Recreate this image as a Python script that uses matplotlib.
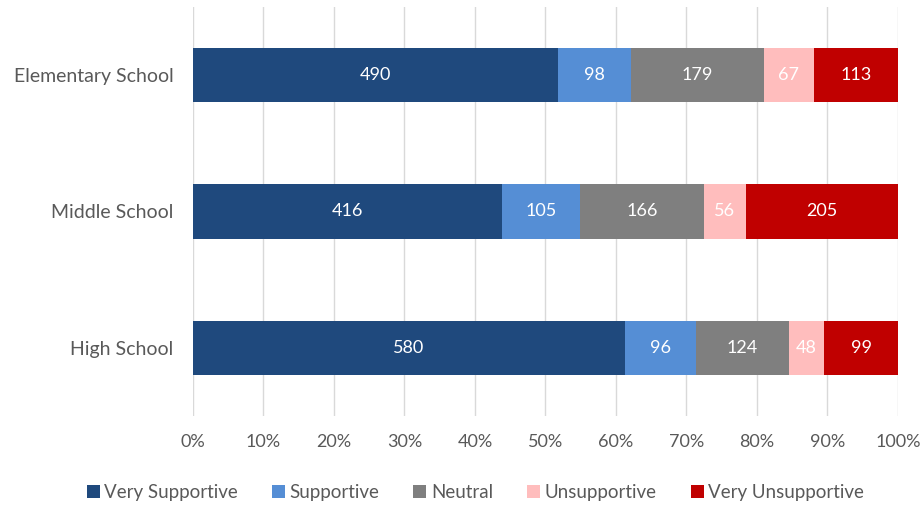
import numpy as np
import matplotlib.pyplot as plt
from matplotlib.ticker import PercentFormatter

plt.rcParams['font.family'] = ['Lato', 'DejaVu Sans']

# Data
schools = ["High School", "Middle School", "Elementary School"]
very_supportive = [580, 416, 490]
supportive = [96, 105, 98]
neutral = [124, 166, 179]
unsupportive = [48, 56, 67]
very_unsupportive = [99, 205, 113]

series_names = ["Very Supportive", "Supportive", "Neutral", "Unsupportive", "Very Unsupportive"]
colors = ["#1F497D", "#558ED5", "#7F7F7F", "#FFBDBD", "#C00000"]

counts = np.array([very_supportive, supportive, neutral, unsupportive, very_unsupportive], dtype=float)
totals = counts.sum(axis=0)
shares = counts / totals

fig = plt.figure(figsize=(9.23, 5.05), dpi=100)
ax = fig.add_axes([0.2091, 0.1757, 0.7638, 0.811])

y = np.arange(len(schools))
left = np.zeros(len(schools))
for name, col, share, cnt in zip(series_names, colors, shares, counts):
    ax.barh(y, share, left=left, height=0.4, color=col, label=name, zorder=3)
    for yi, l, s, c in zip(y, left, share, cnt):
        ax.text(l + s / 2, yi, f"{int(c)}", ha='center', va='center',
                color='white', fontsize=13, zorder=4)
    left += share

ax.set_xlim(0, 1)
ax.set_ylim(-0.5, 2.5)
ax.set_xticks(np.linspace(0, 1, 11))
ax.xaxis.set_major_formatter(PercentFormatter(1.0, decimals=0))
ax.set_yticks(y)
ax.set_yticklabels(schools)
ax.grid(axis='x', color='#D9D9D9', linewidth=1, zorder=0)
for s in ax.spines.values():
    s.set_visible(False)
ax.tick_params(axis='x', length=0, labelsize=13, colors='#595959', pad=13)
ax.tick_params(axis='y', length=0, labelsize=14, colors='#595959', pad=14)

fig.legend(loc='lower center', bbox_to_anchor=(0.515, -0.025), ncol=5, frameon=False,
           fontsize=13.5, handlelength=0.7, handleheight=0.7, handletextpad=0.25,
           columnspacing=1.8, labelcolor='#595959')

fig.savefig("out.png", dpi=100)
